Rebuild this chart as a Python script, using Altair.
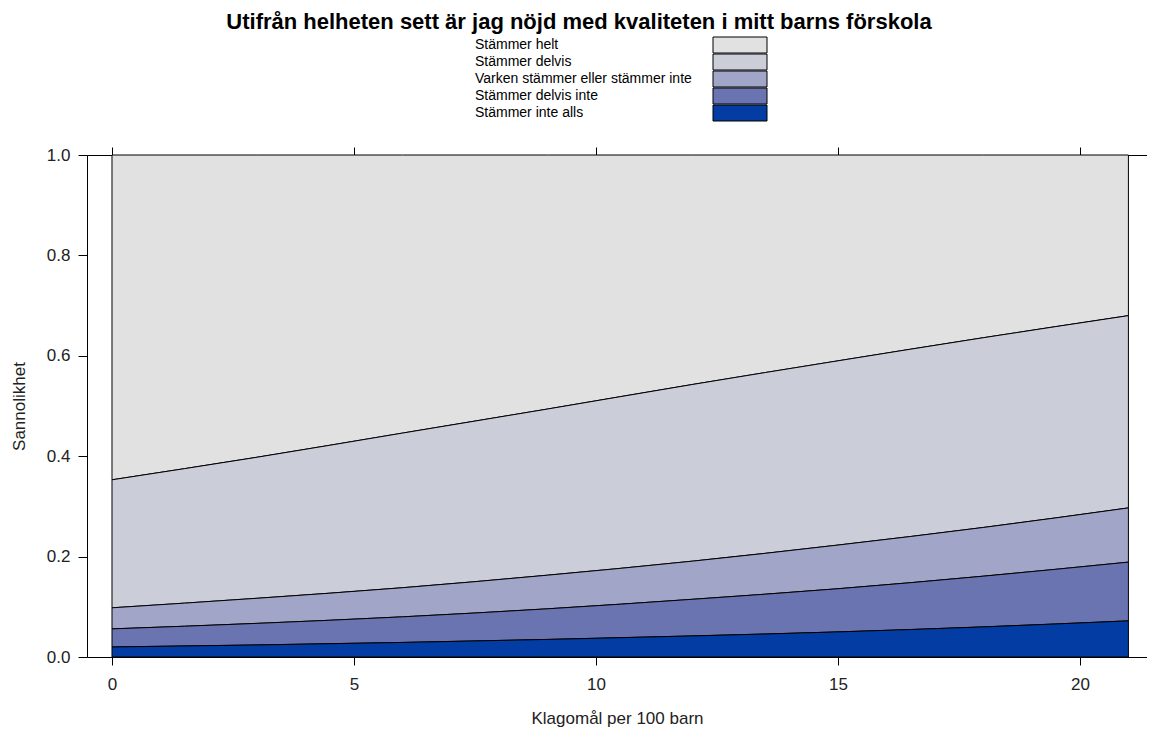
import altair as alt
import pandas as pd

# Data (predicted probabilities per category)
x_vals = [0, 3, 6, 9, 12, 15, 18, 21]
categories = [
    "Stämmer helt",
    "Stämmer delvis",
    "Varken stämmer eller stämmer inte",
    "Stämmer delvis inte",
    "Stämmer inte alls",
]
p_helt = [0.647, 0.602, 0.554, 0.506, 0.457, 0.410, 0.364, 0.320]
p_delvis = [0.255, 0.281, 0.308, 0.331, 0.352, 0.367, 0.378, 0.383]
p_varken = [0.042, 0.050, 0.058, 0.067, 0.076, 0.087, 0.097, 0.108]
p_delvis_inte = [0.036, 0.043, 0.051, 0.061, 0.073, 0.086, 0.101, 0.117]
p_inte_alls = [0.020, 0.024, 0.029, 0.035, 0.042, 0.050, 0.060, 0.072]
colors = ["#e1e1e1", "#cbcdd9", "#a1a5c8", "#6a74b0", "#033ca3"]
x_ticks = [0, 5, 10, 15, 20]
y_ticks = [0.0, 0.2, 0.4, 0.6, 0.8, 1.0]

series = [p_helt, p_delvis, p_varken, p_delvis_inte, p_inte_alls]
rows = []
for ci, (cat, vals) in enumerate(zip(categories, series)):
    for x, v in zip(x_vals, vals):
        rows.append({"x": x, "kategori": cat, "p": v, "ordning": len(categories) - ci})
df = pd.DataFrame(rows)

FONT = "Liberation Sans"
xscale = alt.Scale(domain=[-0.5165, 21.384], nice=False, zero=False)

area = alt.Chart(df).mark_area(stroke="black", strokeWidth=1, interpolate="monotone").encode(
    x=alt.X("x:Q", scale=xscale,
            axis=alt.Axis(values=x_ticks, title="Klagomål per 100 barn", orient="bottom",
                          tickSize=8, labelPadding=11, titlePadding=18, domain=True,
                          grid=False, format="d")),
    y=alt.Y("p:Q", stack="zero", scale=alt.Scale(domain=[0, 1], nice=False),
            axis=alt.Axis(values=y_ticks, format=".1f", title="Sannolikhet", tickSize=9,
                          labelPadding=8, titlePadding=18, grid=False, domain=True)),
    color=alt.Color("kategori:N",
                    scale=alt.Scale(domain=categories, range=colors),
                    legend=alt.Legend(title=None, orient="none", legendX=646, legendY=-117,
                                      symbolType="M-5.4,-1.6H5.4V1.6H-5.4Z", symbolSize=100,
                                      symbolStrokeColor="black", symbolStrokeWidth=1,
                                      labelFontSize=14, labelLimit=400,
                                      labelOffset={"expr": "-272"},
                                      labelAlign="left", rowPadding={"expr": "-9"}, padding=0,
                                      labelColor="black", symbolOpacity=1)),
    order=alt.Order("ordning:Q"),
)

top_ticks = alt.Chart(df).mark_point(opacity=0).encode(
    x=alt.X("x:Q", scale=xscale,
            axis=alt.Axis(values=x_ticks, orient="top", labels=False, title=None,
                          tickSize=8, domain=True, grid=False)),
    y=alt.Y("p:Q", stack="zero"),
)

chart = alt.layer(area, top_ticks).resolve_axis(x="independent").properties(
    width=1060,
    height=502,
    autosize=alt.AutoSizeParams(type="none"),
    padding={"left": 79, "top": 147, "right": 0, "bottom": 80},
    title=alt.TitleParams(
        text="Utifrån helheten sett är jag nöjd med kvaliteten i mitt barns förskola",
        fontSize=22, font=FONT, fontWeight="bold", anchor="middle", dx=-38, offset=4,
        color="black"),
).configure(font=FONT, background="white").configure_view(
    strokeWidth=0
).configure_axis(
    labelFont=FONT, titleFont=FONT, labelFontSize=17, titleFontSize=17,
    titleFontWeight="normal", labelColor="#222222", titleColor="#222222",
    tickColor="black", domainColor="black"
)

chart.save("out.html", embed_options={"renderer": "svg", "actions": False})
